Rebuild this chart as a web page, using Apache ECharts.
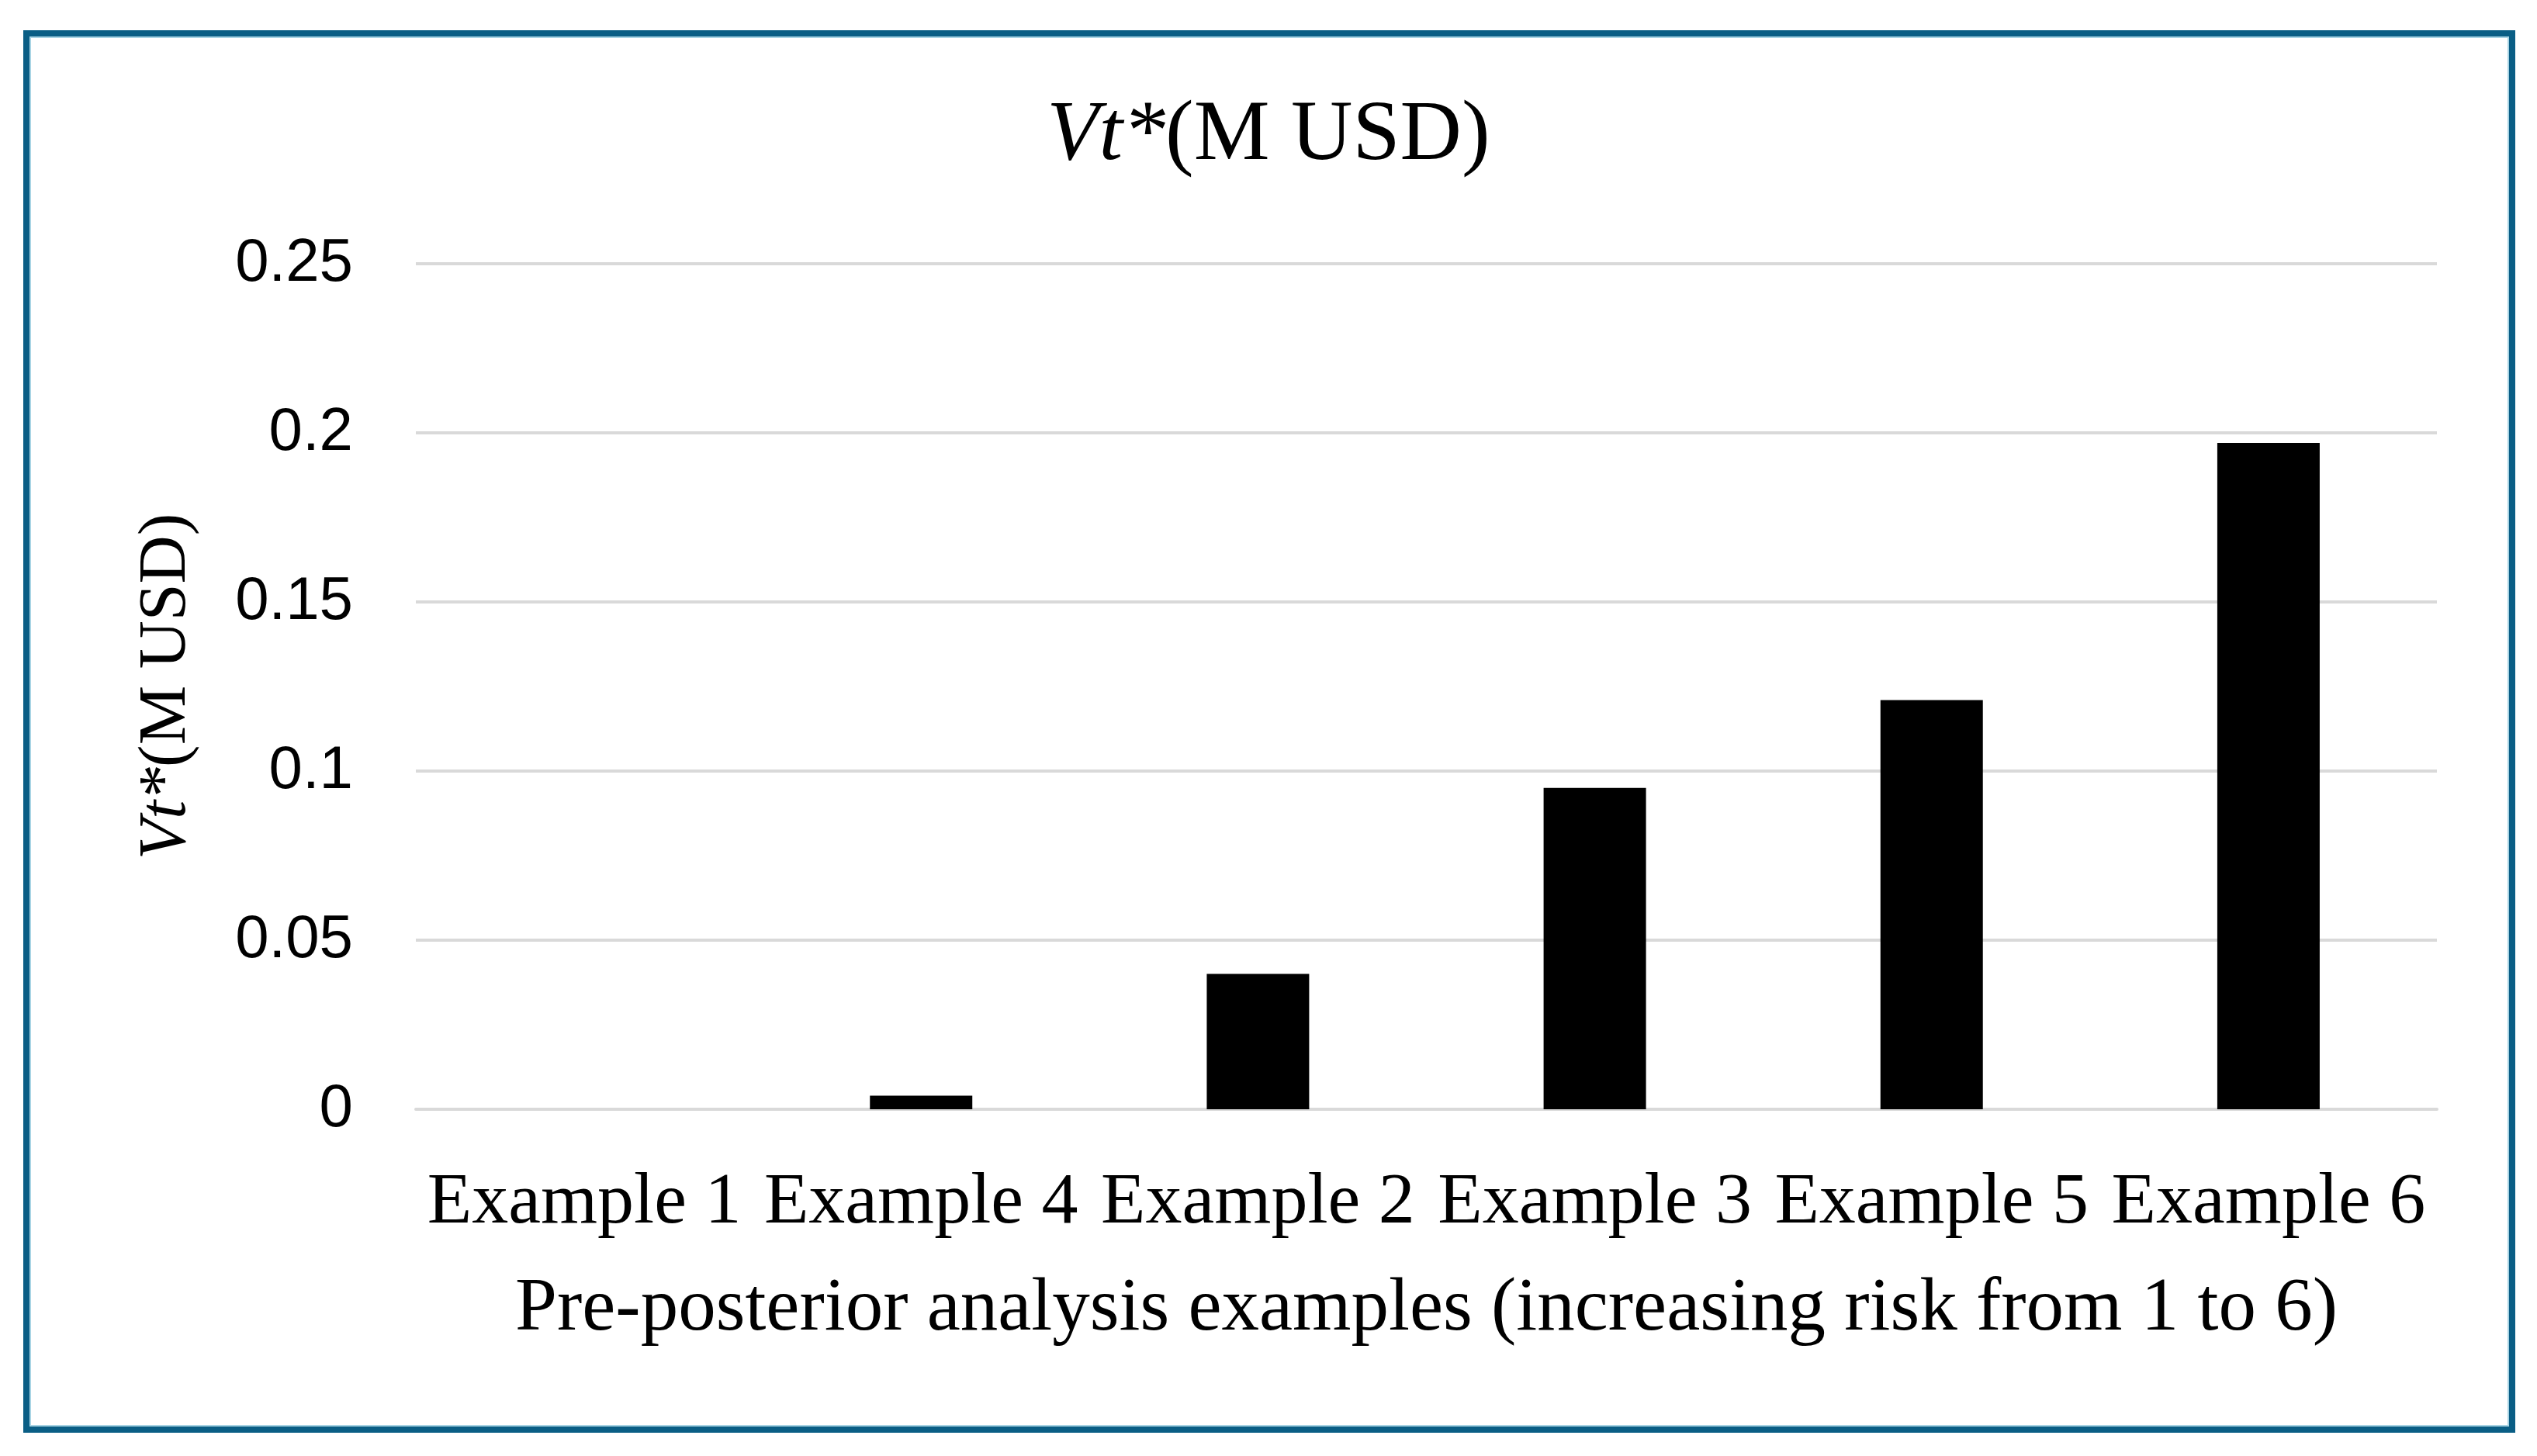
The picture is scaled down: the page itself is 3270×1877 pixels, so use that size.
<!DOCTYPE html>
<html>
<head>
<meta charset="utf-8">
<script src="https://cdn.jsdelivr.net/npm/echarts@6/dist/echarts.min.js"></script>
<style>
html,body{margin:0;padding:0;background:#fff;}
#c{width:3270px;height:1877px;}
</style>
</head>
<body>
<div id="c"></div>
<script>
const categories = ['Example 1', 'Example 4', 'Example 2', 'Example 3', 'Example 5', 'Example 6'];
const values = [0, 0.004, 0.040, 0.095, 0.121, 0.197];
const yTicks = [0, 0.05, 0.1, 0.15, 0.2, 0.25];

const chart = echarts.init(document.getElementById('c'), null, {renderer: 'canvas'});
const serif = '"Liberation Serif", "DejaVu Serif", serif';
const sans = '"Liberation Sans", Arial, sans-serif';

chart.setOption({
  backgroundColor: '#ffffff',
  animation: false,
  title: {
    text: '{i|Vt*}{n|(M USD)}',
    left: 'center',
    top: 116,
    textStyle: {
      fontWeight: 'normal',
      rich: {
        i: {fontFamily: serif, fontStyle: 'italic', fontWeight: 'normal', fontSize: 110, color: '#000'},
        n: {fontFamily: serif, fontWeight: 'normal', fontSize: 110, color: '#000'}
      }
    }
  },
  graphic: [
    {type: 'rect', shape: {x: 34, y: 43, width: 3204, height: 1800}, style: {fill: 'none', stroke: '#0a5e85', lineWidth: 8}, silent: true},
    {type: 'rect', shape: {x: 39, y: 48, width: 3194, height: 1790}, style: {fill: 'none', stroke: '#a8d4e4', lineWidth: 2}, silent: true}
  ],
  grid: {left: 536, right: 3270 - 3141, top: 340, bottom: 1877 - 1430, containLabel: false},
  xAxis: {
    type: 'category',
    data: categories,
    axisTick: {show: false},
    axisLine: {show: true, lineStyle: {color: '#d9d9d9', width: 4}},
    axisLabel: {fontFamily: serif, fontSize: 94, color: '#000', margin: 74, interval: 0},
    name: 'Pre-posterior analysis examples (increasing risk from 1 to 6)',
    nameLocation: 'middle',
    nameGap: 210,
    nameTextStyle: {fontFamily: serif, fontSize: 97, color: '#000'}
  },
  yAxis: {
    type: 'value',
    min: 0,
    max: 0.25,
    interval: 0.05,
    axisLine: {show: false},
    axisTick: {show: false},
    splitLine: {lineStyle: {color: '#d9d9d9', width: 4}},
    axisLabel: {
      fontFamily: sans, fontSize: 78, color: '#000', margin: 81,
      formatter: function (v) {
        const t = yTicks.find(x => Math.abs(x - v) < 1e-9);
        return String(t !== undefined ? t : v);
      }
    },
    name: '{i|Vt*}{n|(M USD)}',
    nameLocation: 'middle',
    nameGap: 278,
    nameTextStyle: {
      rich: {
        i: {fontFamily: serif, fontStyle: 'italic', fontSize: 86, color: '#000'},
        n: {fontFamily: serif, fontSize: 86, color: '#000'}
      }
    }
  },
  series: [{
    type: 'bar',
    data: values,
    barWidth: '30.4%',
    itemStyle: {color: '#000000'}
  }]
});
</script>
</body>
</html>
